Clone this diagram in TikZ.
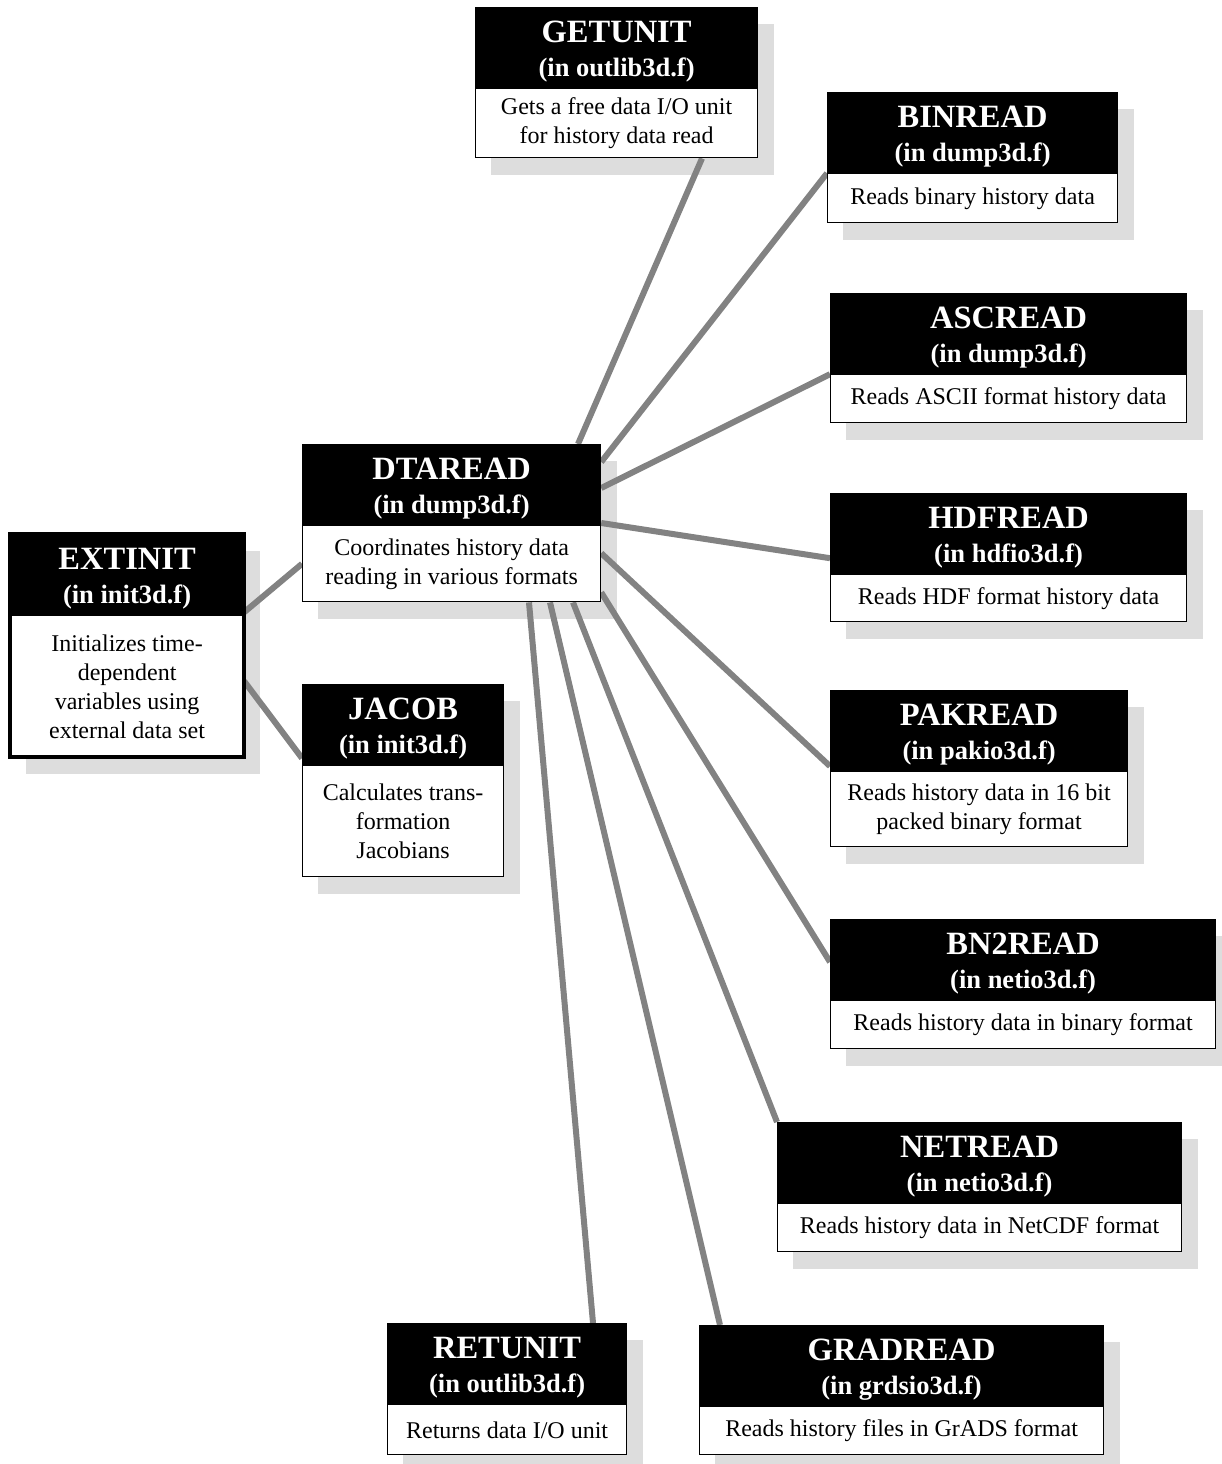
\documentclass[tikz,border=0pt]{standalone}
\usepackage{fontspec}
\setmainfont{Liberation Serif}
\usetikzlibrary{calc}
\pgfdeclarelayer{shadow}
\pgfdeclarelayer{wires}
\pgfsetlayers{shadow,wires,main}
\definecolor{shadowgray}{HTML}{DDDDDD}
\definecolor{wiregray}{HTML}{828282}

\tikzset{
  hdr/.style={draw=black, fill=black, line width=1.2pt,
    minimum height=80pt, inner sep=0pt},
  hdrtext/.style={text=white, inner sep=0pt, align=center,
    font=\bfseries\fontsize{32.5}{34}\selectfont},
  descbox/.style={draw=black, fill=white, line width=1.2pt, inner sep=0pt,
    align=center, font=\fontsize{24}{29}\selectfont},
  shade/.style={fill=shadowgray},
  wire/.style={draw=wiregray, line width=6pt},
}

% #1 name, #2 left x, #3 top y, #4 width, #5 description height,
% #6 routine, #7 source file, #8 description
\newcommand\routine[8]{%
  \node[hdr, minimum width=#4pt, anchor=north west] (#1-h) at (#2,-#3) {};
  \node[hdrtext] (#1-t) at ([yshift=-4pt]#1-h.center)
    {#6\\{\fontsize{26.5}{34}\selectfont (in #7)}};
  \node[descbox, minimum width=#4pt, minimum height=#5pt, anchor=north] (#1)
    at (#1-h.south) {#8};
  \begin{pgfonlayer}{shadow}
    \fill[shade] ([shift={(16,-17)}]#1-h.north west) rectangle ([shift={(16,-17)}]#1.south east);
  \end{pgfonlayer}
}

\begin{document}
\begin{tikzpicture}[x=1pt,y=1pt]
\useasboundingbox (0,0) rectangle (1221,-1464);

\routine{get}{475}{7}{282}{69}{GETUNIT}{outlib3d.f}{Gets a free data I/O unit\\for history data read}
\routine{bin}{827}{92}{290}{49}{BINREAD}{dump3d.f}{Reads binary history data}
\routine{asc}{830}{293}{356}{48}{ASCREAD}{dump3d.f}{Reads ASCII format history data}
\routine{hdf}{830}{493}{356}{47}{HDFREAD}{hdfio3d.f}{Reads HDF format history data}
\routine{pak}{830}{690}{297}{75}{PAKREAD}{pakio3d.f}{Reads history data in 16 bit\\packed binary format}
\routine{bn2}{830}{919}{385}{48}{BN2READ}{netio3d.f}{Reads history data in binary format}
\routine{net}{777}{1122}{404}{48}{NETREAD}{netio3d.f}{Reads history data in NetCDF format}
\routine{grd}{699}{1325}{404}{48}{GRADREAD}{grdsio3d.f}{Reads history files in GrADS format}
\routine{ret}{387}{1323}{239}{50}{RETUNIT}{outlib3d.f}{Returns data I/O unit}
\routine{dta}{302}{444}{298}{76}{DTAREAD}{dump3d.f}{Coordinates history data\\reading in various formats}
\routine{jac}{302}{684}{201}{111}{JACOB}{init3d.f}{Calculates trans-\\formation\\Jacobians}
\routine{ext}{10}{534}{233}{141}{EXTINIT}{init3d.f}{Initializes time-\\dependent\\variables using\\external data set}
% heavier frame around the top-level routine
\draw[line width=4pt] (ext-h.north west) rectangle (ext.south east);

\begin{pgfonlayer}{wires}
  % calls made by EXTINIT
  \draw[wire] ($(ext.north east)+(0,3)$) -- (dta.west);
  \draw[wire] ($(ext.north east)+(0,-66)$) -- ($(jac-h.south west)+(0,7)$);
  % calls made by DTAREAD
  \draw[wire] ($(dta-h.north west)+(276,0)$) -- ($(get.south west)+(227,0)$);
  \draw[wire] ($(dta-h.north east)+(0,-18)$) -- (bin-h.south west);
  \draw[wire] ($(dta-h.north east)+(0,-44)$) -- (asc-h.south west);
  \draw[wire] ($(dta-h.north east)+(0,-79)$) -- ($(hdf-h.south west)+(0,16)$);
  \draw[wire] ($(dta.north east)+(0,-28)$) -- ($(pak-h.south west)+(0,5)$);
  \draw[wire] ($(dta.south east)+(0,10)$) -- ($(bn2-h.north west)+(0,-43)$);
  \draw[wire] ($(dta.south west)+(271,0)$) -- (net-h.north west);
  \draw[wire] ($(dta.south west)+(248,0)$) -- ($(grd-h.north west)+(21,0)$);
  \draw[wire] ($(dta.south west)+(227,0)$) -- ($(ret-h.north west)+(206,0)$);
\end{pgfonlayer}
\end{tikzpicture}
\end{document}
